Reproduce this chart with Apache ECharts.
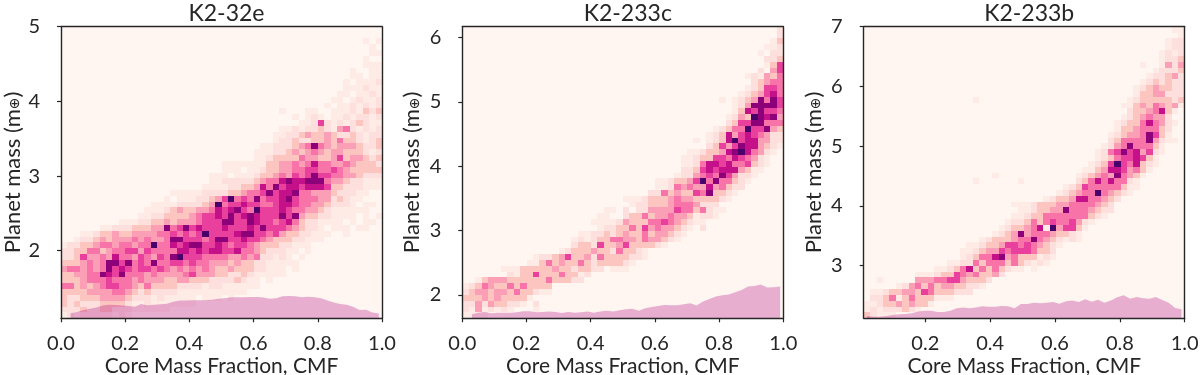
<!DOCTYPE html>
<html>
<head>
<meta charset="utf-8">
<style>html,body{margin:0;padding:0;background:#fff}#c{width:1200px;height:375px}</style>
<script src="https://cdn.jsdelivr.net/npm/echarts@6/dist/echarts.min.js"></script>
</head>
<body>
<div id="c"></div>
<script>
// Histogram cells, read by eye: each row is one mass bin from the top of the panel down.
// "start:digits" gives the first column, further groups carry on; digits are density levels 0-9.
const titles = ["K2-32e", "K2-233c", "K2-233b"];
const xTicks = [[0, 0.2, 0.4, 0.6, 0.8, 1], [0, 0.2, 0.4, 0.6, 0.8, 1], [0.2, 0.4, 0.6, 0.8, 1]];
const yTicks = [[2, 3, 4, 5], [2, 3, 4, 5, 6], [3, 4, 5, 6, 7]];
const xRanges = [[0, 1], [0, 1], [0.01, 1]];
const yRanges = [[1.095, 5], [1.638, 6.166], [2.12, 7]];

const cellsK232e = [
"", "",
"47:101", "48:1", "48:11", "47:1", "47:111", "45:10011", "45:11011", "44:101112",
"44:111211", "43:1101121", "42:11012112", "41:101121212",
"34:1 38:11 42:11121323",
"36:1012 1011212212",
"37:112 6212123211",
"34:112122 3214521212",
"33:1122343 3432232122",
"33:1223223 3435332123",
"31:112223458 5434443223",
"30:1112234345 4344333212",
"30:1123333544 3346344323",
"25:11111 1133445457 5544543332",
"25:11101 1233445566 5565433333",
"23:1110111 2334546568 6655443222",
"23:1122222 3455787788 8544322111",
"22:11112233 4758677677 7633222111",
"17:111 1122223345 5686778554 4432221100",
"16:1011 1223469565 8566786555 4423211",
"14:111122 2234956676 6556776554 432221 47:11",
"13:1112343 3445767865 9666765544 3211111 47:1",
"12:11223333 4566768678 7666868433 221111 47:101",
"9:1 1122334344 4566688668 7665675322 1111 45:1011",
"6:1122 2333448568 6766676667 6866654322 10111 46:11",
"3:1123343 3444455656 5696666788 6656433221 11 44:1",
"2:12234344 4545445886 6656886676 6543332211 1",
"0:1223345545 5455955767 8866765665 433322111",
"0:2233553455 6646555577 6767766755 432221101",
"0:2236445475 5465465896 6655554454 5221210100",
"0:3334545886 8565855665 6554443433 2211111",
"0:4554545867 6566565454 5454334333 2211101",
"0:3344558768 5554544445 6444332232 11111",
"0:3334555655 5454443344 3332222321 101",
"0:5534345665 5435333322 2212211111 1",
"0:3333444455 4323222211 111111111",
"0:3223334444 3222121111 1011101",
"0:3232223333 2112111111 1",
"0:2223223322 2111111",
"0:1212222212 1"
];
const cellsK233c = [
"49:2", "49:2", "48:13", "47:112", "46:1022", "47:223", "47:136", "46:2046", "44:121435", "45:23455",
"44:123665", "43:1234675", "40:1012348586", "42:12488886", "42:13768665", "41:124398784", "41:236688555",
"39:12355966843", "38:123746765422", "36:10123796774422", "38:236468774321", "35:11233478975421",
"34:11233665765421", "34:11257767556321", "34:2236767774311", "33:1224565864221", "30:112334695855321",
"30:11254544745322", "29:22534336583321", "25:11123334544333321", "26:12233345554222",
"22:1102022444465535211", "21:1100233534454431221", "20:111124333556543211", "21:12233536454432102",
"18:11223234335344321", "17:12123355443544321", "17:233263346333321", "15:12333433253321",
"11:122346334253333221", "10:11353433532333321", "6:11133333433233220111", "7:2133633353312",
"2:13444333333533322", "0:12354335353333", "0:23443443533211", "0:33343433331", "0:224243322102",
"0:214121210001", "0:1111"
];
const cellsK233b = [
"48:11", "49:1", "47:122", "47:122", "46:1212", "46:1223", "43:1 46:1424", "45:12223", "44:122342", "43:1232322",
"42:12343322", "42:13344222", "17:1 41:123333323", "40:1134354341", "41:23345731", "40:12345442",
"39:1233575421", "39:133455532", "38:1234458631", "38:23555584211", "37:1245855531", "36:12568674621",
"36:1235667631", "35:12369657321", "34:11347764531", "20:1 33:12345485431", "17:1 24:1 33:2357575521",
"31:123655555311", "30:123455954321", "28:123347755432", "23:1112333445555432", "24:112334485554322",
"23:112335555555321", "22:12235356556421", "21:12334571946631", "20:12348455543321", "18:1233345585432121",
"16:112334665654321", "15:112344656665332", "15:123557845333121", "13:1122535553532121",
"11:1123573535321101", "8:11123365453342", "2:100000444556643332", "5:12453534433221", "1:1123344365333222",
"1:2235135333111", "0:11233434331", "0:121222321", "0:32111"
];

// Marginal CMF distributions, one height per column, drawn in mass units.
const marginK232e = [null, 1.162, 1.180, 1.207, 1.224, 1.238, 1.265, 1.278, 1.274, 1.265, 1.260, 1.251, 1.287, 1.265, 1.278, 1.283, 1.291, 1.318, 1.332, 1.332, 1.336, 1.336, 1.336, 1.345, 1.358, 1.363, 1.376, 1.376, 1.376, 1.381, 1.381, 1.372, 1.358, 1.363, 1.390, 1.394, 1.390, 1.376, 1.385, 1.376, 1.363, 1.332, 1.305, 1.287, 1.278, 1.251, 1.207, 1.211, 1.171, 1.158];
const marginK233c = [null, 1.700, 1.726, 1.736, 1.716, 1.726, 1.726, 1.726, 1.731, 1.747, 1.747, 1.731, 1.736, 1.742, 1.736, 1.721, 1.736, 1.726, 1.731, 1.742, 1.726, 1.742, 1.757, 1.742, 1.762, 1.778, 1.788, 1.757, 1.793, 1.814, 1.830, 1.845, 1.840, 1.840, 1.856, 1.871, 1.835, 1.897, 1.939, 1.975, 1.996, 2.006, 2.042, 2.078, 2.130, 2.141, 2.161, 2.115, 2.120, 2.130];
const marginK233b = [2.159, 2.148, 2.148, 2.159, 2.176, 2.187, 2.193, 2.204, 2.232, 2.248, 2.248, 2.226, 2.226, 2.248, 2.287, 2.299, 2.287, 2.299, 2.321, 2.315, 2.315, 2.326, 2.321, 2.287, 2.360, 2.360, 2.382, 2.371, 2.382, 2.393, 2.365, 2.405, 2.416, 2.393, 2.438, 2.399, 2.432, 2.382, 2.416, 2.471, 2.505, 2.449, 2.477, 2.455, 2.449, 2.477, 2.427, 2.382, 2.293, 2.271];

const rowsByPanel = [cellsK232e, cellsK233c, cellsK233b];
const marginsByPanel = [marginK232e, marginK233c, marginK233b];
const gridLefts = [61, 462.3, 863.7];
const yNameGaps = [37.5, 39, 39];
const BINS = 50, INK = "#262626", FONT = "Lato";

function parseCells(rows, xr, yr) {
  const out = [], dx = (xr[1] - xr[0]) / BINS, dy = (yr[1] - yr[0]) / BINS;
  rows.forEach((row, r) => {
    let col = 0;
    row.split(" ").filter(Boolean).forEach(tok => {
      let digits = tok;
      if (tok.includes(":")) { const p = tok.split(":"); col = +p[0]; digits = p[1]; }
      for (const ch of digits) {
        const lv = +ch;
        if (lv > 0 && col < BINS) {
          out.push([xr[0] + col * dx, yr[1] - (r + 1) * dy, xr[0] + (col + 1) * dx, yr[1] - r * dy, lv]);
        }
        col++;
      }
    });
  });
  return out;
}
function renderCell(params, api) {
  const a = api.coord([api.value(0), api.value(3)]);
  const b = api.coord([api.value(2), api.value(1)]);
  const x = Math.round(a[0]), y = Math.round(a[1]);
  return { type: "rect",
    shape: { x, y, width: Math.round(b[0]) - x, height: Math.round(b[1]) - y },
    style: { fill: api.visual("color") } };
}

const grids = [], xAxes = [], yAxes = [], series = [], title = [];
titles.forEach((t, i) => {
  const left = gridLefts[i], xr = xRanges[i], yr = yRanges[i];
  grids.push({ left, top: 26.7, width: 321, height: 291.6, show: true, backgroundColor: "#fff5f1", borderWidth: 0, outerBoundsMode: "none" });
  title.push({ text: t, left: left + 160.5, top: -3, textAlign: "center",
    textStyle: { fontFamily: FONT, fontSize: 23, fontWeight: 400, color: INK } });
  xAxes.push({ type: "value", gridIndex: i, min: xr[0], max: xr[1], z: 5, splitLine: { show: false },
    name: "Core Mass Fraction, CMF", nameLocation: "middle", nameGap: 37, nameMoveOverlap: false,
    nameTextStyle: { fontFamily: FONT, fontSize: 21, color: INK },
    axisLine: { show: true, onZero: false, lineStyle: { color: INK, width: 1.4 } },
    axisTick: { show: true, length: 4, customValues: xTicks[i], lineStyle: { color: INK, width: 1.2 } },
    axisLabel: { show: true, customValues: xTicks[i], margin: 15, fontFamily: FONT, fontSize: 20, color: INK, hideOverlap: false,
      formatter: v => v.toFixed(1) } });
  yAxes.push({ type: "value", gridIndex: i, min: yr[0], max: yr[1], z: 5, splitLine: { show: false },
    name: "Planet mass (m{s|⊕})", nameLocation: "middle", nameGap: yNameGaps[i], nameMoveOverlap: false,
    nameTextStyle: { fontFamily: FONT, fontSize: 22, color: INK,
      rich: { s: { fontFamily: "DejaVu Sans", fontSize: 14, color: INK, padding: [6, 0, 0, 0] } } },
    axisLine: { show: true, onZero: false, lineStyle: { color: INK, width: 1.4 } },
    axisTick: { show: true, length: 4, customValues: yTicks[i], lineStyle: { color: INK, width: 1.2 } },
    axisLabel: { show: true, customValues: yTicks[i], margin: 21, fontFamily: FONT, fontSize: 20, color: INK, hideOverlap: false,
      formatter: v => String(v) } });
});
titles.forEach((t, i) => {
  // top and right spines
  xAxes.push({ type: "value", gridIndex: i, position: "top", min: xRanges[i][0], max: xRanges[i][1], z: 5,
    splitLine: { show: false }, axisTick: { show: false }, axisLabel: { show: false },
    axisLine: { show: true, onZero: false, lineStyle: { color: INK, width: 1.4 } } });
  yAxes.push({ type: "value", gridIndex: i, position: "right", min: yRanges[i][0], max: yRanges[i][1], z: 5,
    splitLine: { show: false }, axisTick: { show: false }, axisLabel: { show: false },
    axisLine: { show: true, onZero: false, lineStyle: { color: INK, width: 1.4 } } });
});
const cellSeriesIdx = [];
titles.forEach((t, i) => {
  const xr = xRanges[i];
  cellSeriesIdx.push(series.length);
  series.push({ type: "custom", xAxisIndex: i, yAxisIndex: i, z: 1, silent: true, clip: true,
    renderItem: renderCell, animation: false, encode: { x: [0, 2], y: [1, 3] },
    data: parseCells(rowsByPanel[i], xr, yRanges[i]) });
  const dx = (xr[1] - xr[0]) / BINS;
  series.push({ type: "line", xAxisIndex: i, yAxisIndex: i, z: 2, silent: true, showSymbol: false, animation: false,
    lineStyle: { width: 0 }, areaStyle: { color: "rgba(174,1,126,0.29)", opacity: 1, origin: "start" },
    data: marginsByPanel[i].map((m, k) => m === null ? null : [xr[0] + (k + 0.5) * dx, m]).filter(Boolean) });
});

const chart = echarts.init(document.getElementById("c"), null, { renderer: "canvas" });
chart.setOption({
  animation: false, backgroundColor: "#fff", title, grid: grids, xAxis: xAxes, yAxis: yAxes, series,
  visualMap: [{ type: "continuous", show: false, dimension: 4, seriesIndex: cellSeriesIdx, min: 0, max: 9,
    inRange: { color: ["#fff5f1", "#feebe6", "#fde0dd", "#fcc5c0", "#fa9fb5", "#f874a8", "#e8409c", "#c4118a", "#8c0179", "#49006a"] } }]
});
</script>
</body>
</html>
